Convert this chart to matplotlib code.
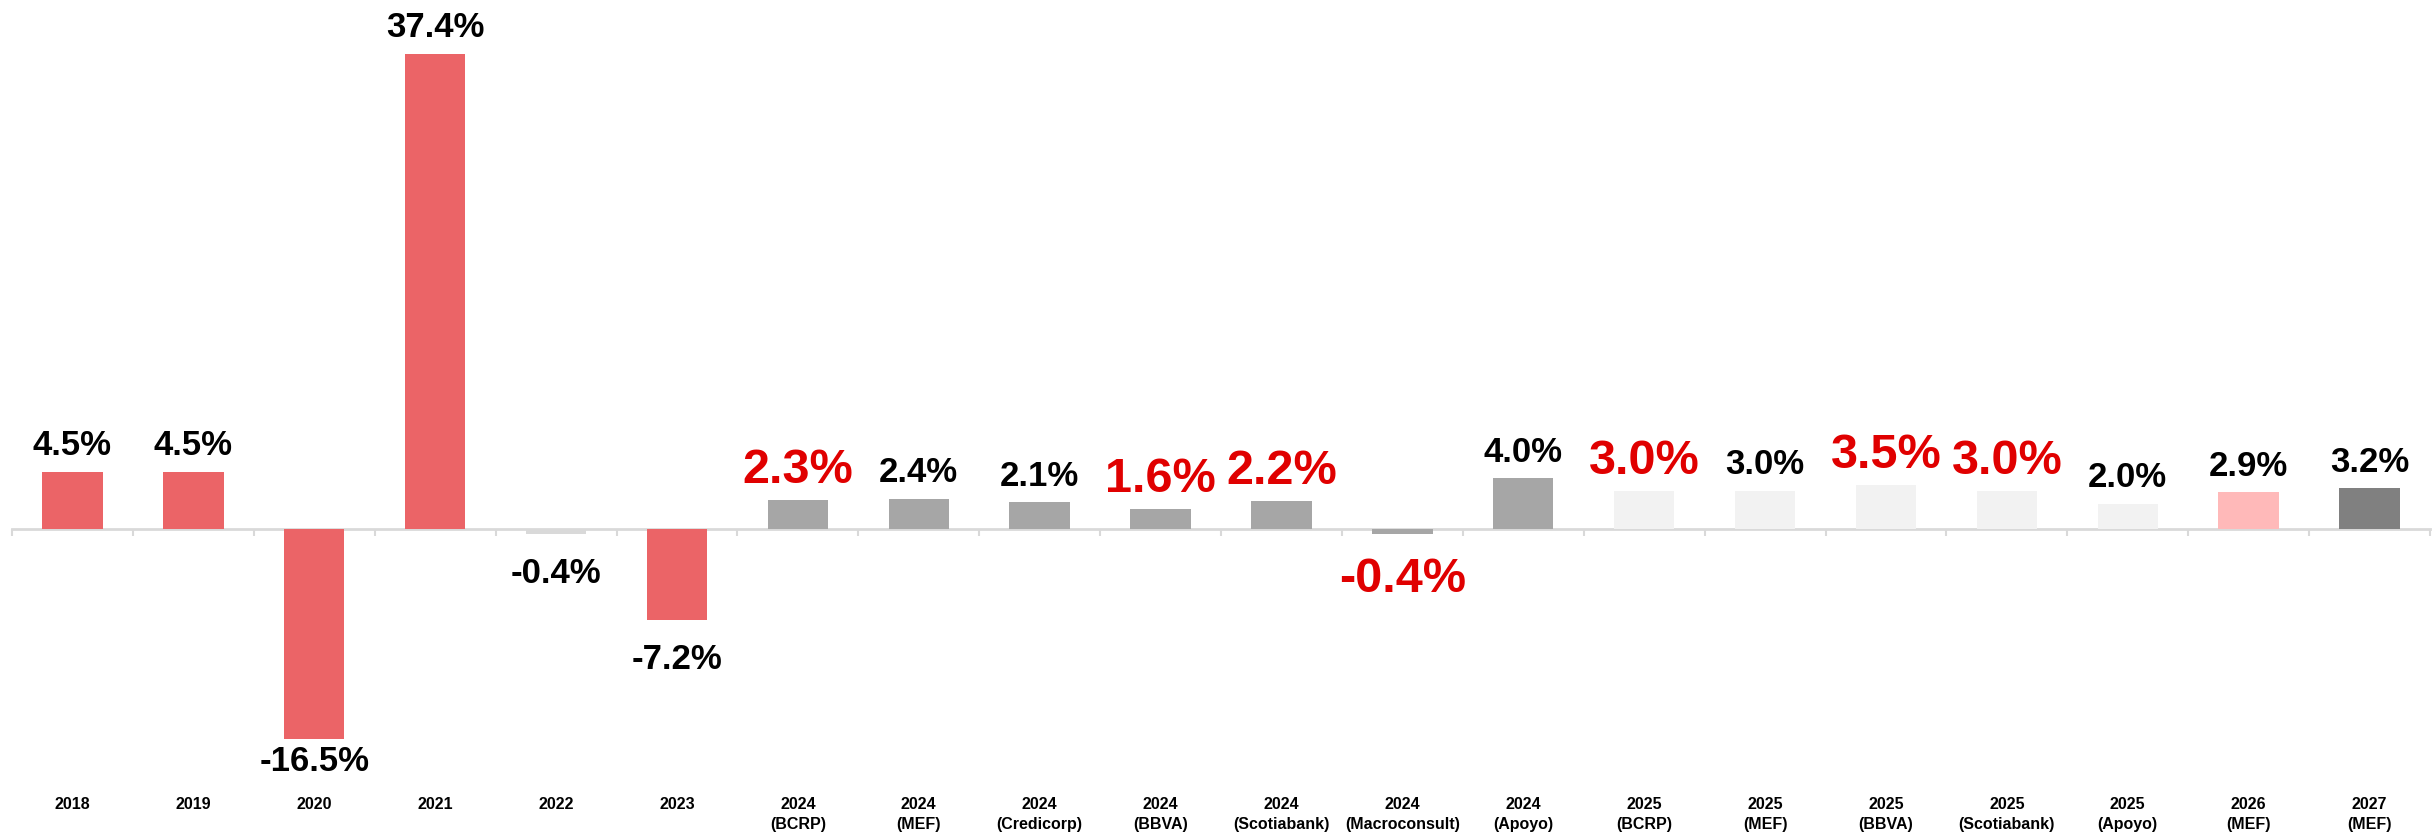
import matplotlib
matplotlib.use("Agg")
import matplotlib.pyplot as plt
import matplotlib.transforms as mtrans
import numpy as np

# datos: crecimiento (%) y proyecciones
years=["2018","2019","2020","2021","2022","2023","2024","2024","2024","2024","2024","2024","2024",
       "2025","2025","2025","2025","2025","2026","2027"]
sources=["","","","","","","(BCRP)","(MEF)","(Credicorp)","(BBVA)","(Scotiabank)","(Macroconsult)","(Apoyo)",
         "(BCRP)","(MEF)","(BBVA)","(Scotiabank)","(Apoyo)","(MEF)","(MEF)"]
values=[4.5,4.5,-16.5,37.4,-0.4,-7.2,2.3,2.4,2.1,1.6,2.2,-0.4,4.0,3.0,3.0,3.5,3.0,2.0,2.9,3.2]
# grupo de color de cada barra
groups=["hist","hist","hist","hist","light","hist","g24","g24","g24","g24","g24","g24","g24",
        "g25","g25","g25","g25","g25","g26","g27"]
# etiquetas resaltadas en rojo
highlight=[False,False,False,False,False,False,True,False,False,True,True,True,False,
           True,False,True,True,False,False,False]

col_map={"hist":"#EB6467","light":"#D9D9D9","g24":"#A6A6A6","g25":"#F2F2F2","g26":"#FFB9B9","g27":"#808080"}
fnt=["Liberation Sans Narrow","Liberation Sans","DejaVu Sans"]

fig=plt.figure(figsize=(24.32,8.32),dpi=100)
ax=fig.add_axes([12/2432,0.0589,2418/2432,0.9387])
x=np.arange(len(values))
ax.bar(x,values,width=0.5,color=[col_map[g] for g in groups],zorder=2)
ax.set_xlim(-0.5,len(values)-0.5)
ax.set_ylim(-20,41.5)

for s in ["top","right","left"]: ax.spines[s].set_visible(False)
ax.spines["bottom"].set_position(("data",0))
ax.spines["bottom"].set_color("#D9D9D9")
ax.spines["bottom"].set_linewidth(2)
ax.spines["bottom"].set_zorder(1)
ax.set_yticks([])
ax.set_xticks(np.arange(len(values)+1)-0.5)
ax.set_xticklabels([])
ax.tick_params(axis="x",length=5,width=1.5,color="#D9D9D9",direction="out")

# etiquetas de categoria abajo
trn=mtrans.blended_transform_factory(ax.transData,ax.transAxes)
for i in range(len(values)):
	lbl=years[i] if sources[i]=="" else years[i]+"\n"+sources[i]
	ax.text(x[i],-0.018,lbl,transform=trn,ha="center",va="top",fontsize=11.5,fontweight="bold",
	        family=fnt,linespacing=1.4)

# etiquetas de valor
for i,v in enumerate(values):
	txt=("%.1f%%"%v)
	red=highlight[i]
	fs=35 if red else 25
	clr="#E00000" if red else "black"
	if v>=0:
		ax.annotate(txt,(x[i],v),xytext=(0,12),textcoords="offset points",ha="center",va="baseline",
		            fontsize=fs,fontweight="bold",color=clr,family=fnt)
	else:
		#la barra mas baja deja menos espacio sobre las categorias
		off=-5 if v<-15 else -16.5
		ax.annotate(txt,(x[i],v),xytext=(0,off),textcoords="offset points",ha="center",va="top",
		            fontsize=fs,fontweight="bold",color=clr,family=fnt)

fig.savefig("out.png",dpi=100)
